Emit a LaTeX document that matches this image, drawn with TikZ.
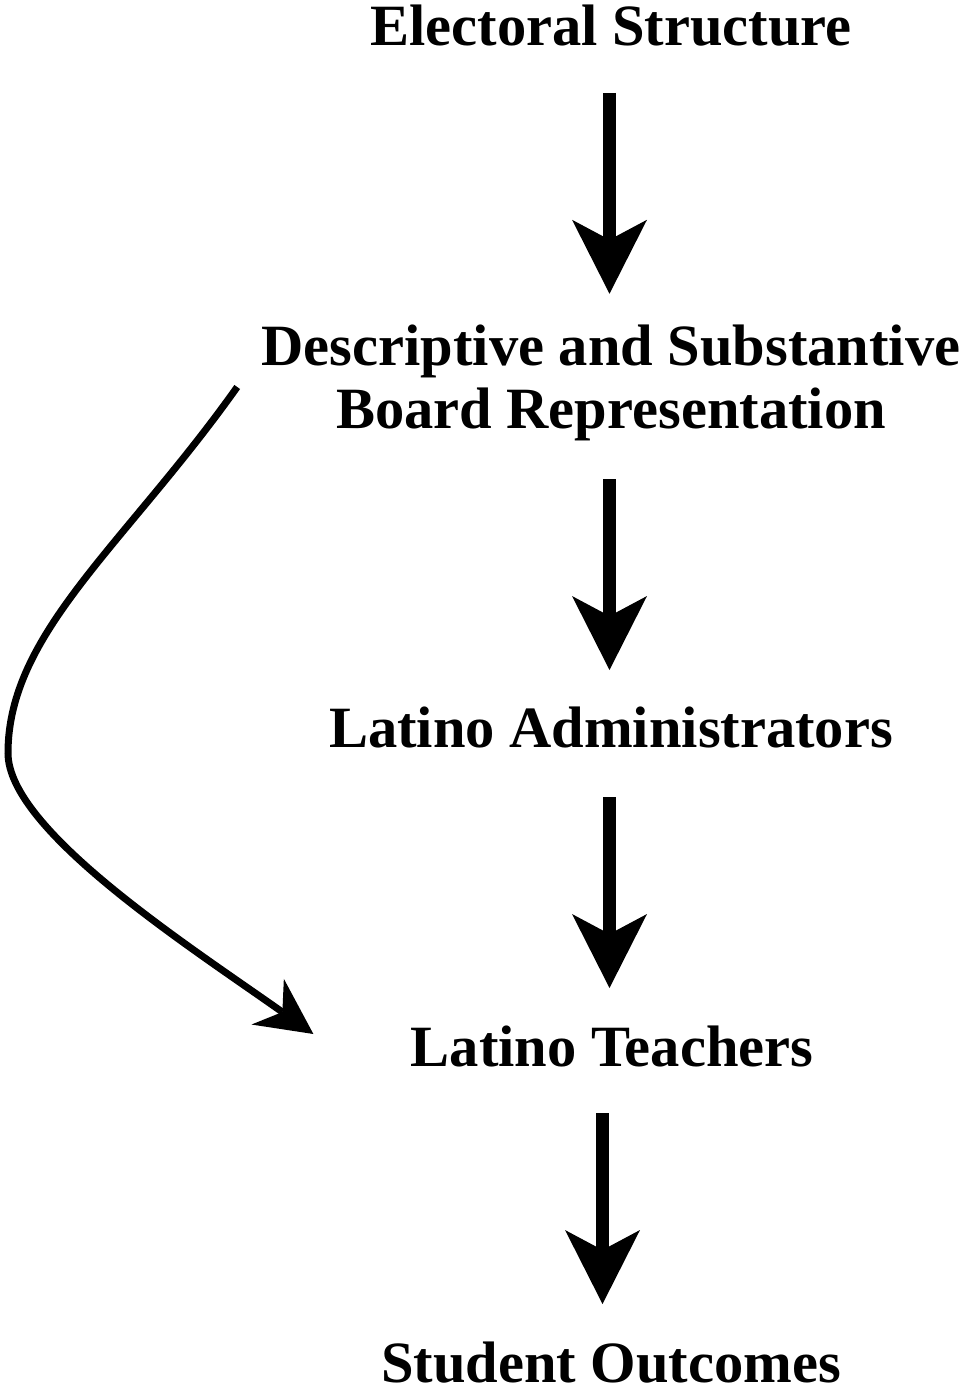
\documentclass[tikz,border=0pt]{standalone}
\usepackage{fontspec}
\setmainfont{Liberation Serif}
\usetikzlibrary{arrows.meta}
\begin{document}
\begin{tikzpicture}[x=0.02cm,y=-0.02cm,
  label/.style={font=\fontsize{33.3}{35.7}\selectfont\bfseries, inner sep=0pt, align=center},
  bigarrow/.style={line width=0.26cm,
    -{Stealth[length=1.48cm,width=1.5cm,inset=0.4cm,line width=0pt]}},
  curvearrow/.style={line width=0.14cm,
    -{Stealth[length=1.12cm,width=1.12cm,inset=0.36cm,line width=0pt]}}]
  \path[use as bounding box] (0,0) rectangle (963,1388);

  % causal chain, top to bottom
  \node[label, anchor=base]   (es)  at (611,46)   {Electoral Structure};
  \node[label, anchor=center] (dbr) at (611,383)  {Descriptive and Substantive\\Board Representation};
  \node[label, anchor=base]   (la)  at (611,747)  {Latino Administrators};
  \node[label, anchor=base]   (lt)  at (612,1066) {Latino Teachers};
  \node[label, anchor=base]   (so)  at (611,1382) {Student Outcomes};

  % straight links
  \draw[bigarrow] ([shift={(-1.5,47)}]es.base)  -- ([shift={(-1.5,-31)}]dbr.north);
  \draw[bigarrow] ([shift={(-1.5,38)}]dbr.south) -- ([shift={(-1.5,-77)}]la.base);
  \draw[bigarrow] ([shift={(-1.5,50)}]la.base)  -- ([shift={(-2.5,-78)}]lt.base);
  \draw[bigarrow] ([shift={(-9.5,47)}]lt.base)  -- ([shift={(-8.5,-78)}]so.base);

  % direct link from the board to the teachers
  \coordinate (bend) at (8,753);
  \draw[curvearrow] ([shift={(-24,4)}]dbr.west)
      .. controls (125,545) and (8,633) .. (bend)
      .. controls (8,830) and (189,946) .. ([shift={(-97,-32)}]lt.base west);
\end{tikzpicture}
\end{document}
